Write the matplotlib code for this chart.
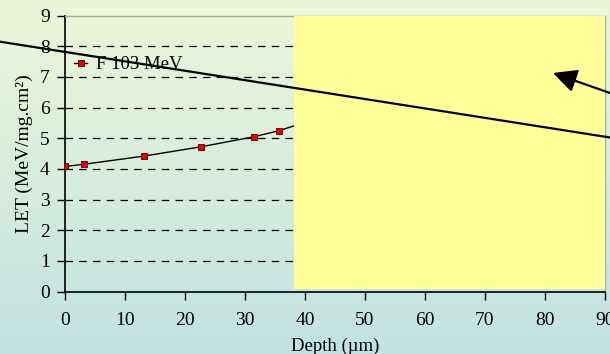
import numpy as np
import matplotlib
matplotlib.use("Agg")
import matplotlib.pyplot as plt
from matplotlib.patches import Rectangle, FancyArrowPatch
from matplotlib.lines import Line2D

# ---- data ----
depth = [0, 3.1, 13.2, 22.6, 31.5, 35.7]
let_f103 = [4.08, 4.15, 4.42, 4.72, 5.05, 5.25]
# continuation of the curve (hidden beneath the highlight box)
depth_cont = [35.7, 40]
let_cont = [5.25, 5.52]
series_label = "F 103 MeV"
x_ticks = [0, 10, 20, 30, 40, 50, 60, 70, 80, 90]
y_ticks = [0, 1, 2, 3, 4, 5, 6, 7, 8, 9]
x_label = "Depth (\u00b5m)"
y_label = "LET (MeV/mg.cm\u00b2)"

plt.rcParams['font.family'] = ['Liberation Serif', 'DejaVu Serif']

W, H = 610, 354
fig = plt.figure(figsize=(W / 100, H / 100), dpi=100)

# background gradient
bg = fig.add_axes([0, 0, 1, 1], zorder=-10)
top = np.array([238, 246, 216]) / 255
bot = np.array([192, 226, 226]) / 255
t = np.linspace(0, 1, 256)[:, None]
grad = top[None, :] * (1 - t) + bot[None, :] * t
bg.imshow(grad[:, None, :], aspect='auto', extent=[0, 1, 0, 1])
bg.set_axis_off()

# main axes (pixel-based placement)
x0, x1 = 65, 605
y_top, y_bot = 15.7, 291.5
ax = fig.add_axes([x0 / W, 1 - y_bot / H, (x1 - x0) / W, (y_bot - y_top) / H])
ax.patch.set_alpha(0)
ax.set_xlim(0, 90)
ax.set_ylim(0, 9)
ax.set_xticks(x_ticks)
ax.set_yticks(y_ticks)
ax.tick_params(direction='out', length=5.5, width=1, labelsize=14, color='black', pad=5.5)
ax.tick_params(axis='x', pad=9.5)
for s in ['left', 'bottom']:
    ax.spines[s].set_color('black')
    ax.spines[s].set_linewidth(1.2)
for s in ['top', 'right']:
    ax.spines[s].set_color('#a8a8a8')
    ax.spines[s].set_linewidth(1)

for yv in y_ticks[1:-1]:
    ax.axhline(yv, color='black', lw=0.9, dashes=(6, 5), zorder=1)

ax.plot(depth_cont, let_cont, color='black', lw=1, zorder=2)
ax.plot(depth, let_f103, color='black', lw=1, marker='s', markersize=5,
        markerfacecolor='#ee0000', markeredgecolor='#400000', markeredgewidth=0.6,
        zorder=3, label=series_label)

ax.set_xlabel(x_label, fontsize=13.5, labelpad=6)
ax.set_ylabel(y_label, fontsize=14, labelpad=5)

leg = ax.legend(loc='center left', bbox_to_anchor=((74 - x0) / (x1 - x0), (y_bot - 64.5) / (y_bot - y_top)),
                frameon=False, borderpad=0, borderaxespad=0, handlelength=0.7,
                handletextpad=0.45, fontsize=13.5)

# yellow highlight box
ax.add_patch(Rectangle(((294 - x0) / (x1 - x0), 0.008), 1 - (294 - x0) / (x1 - x0), 0.992,
                       transform=ax.transAxes, facecolor='#ffff99', edgecolor='none',
                       zorder=4, clip_on=False))

# slanted line across the slide
fig.add_artist(Line2D([0, 1], [1 - 41.7 / H, 1 - 137.5 / H], transform=fig.transFigure,
                      color='black', lw=1.6, zorder=10))

# arrow
arr = FancyArrowPatch((1.0, 1 - 93 / H), (553 / W, 1 - 73 / H), transform=fig.transFigure,
                      arrowstyle='-|>,head_length=0.85,head_width=0.42', mutation_scale=17,
                      color='black', lw=1.6, shrinkA=0, shrinkB=0, zorder=10)
fig.add_artist(arr)

fig.savefig('out.png', dpi=100)
